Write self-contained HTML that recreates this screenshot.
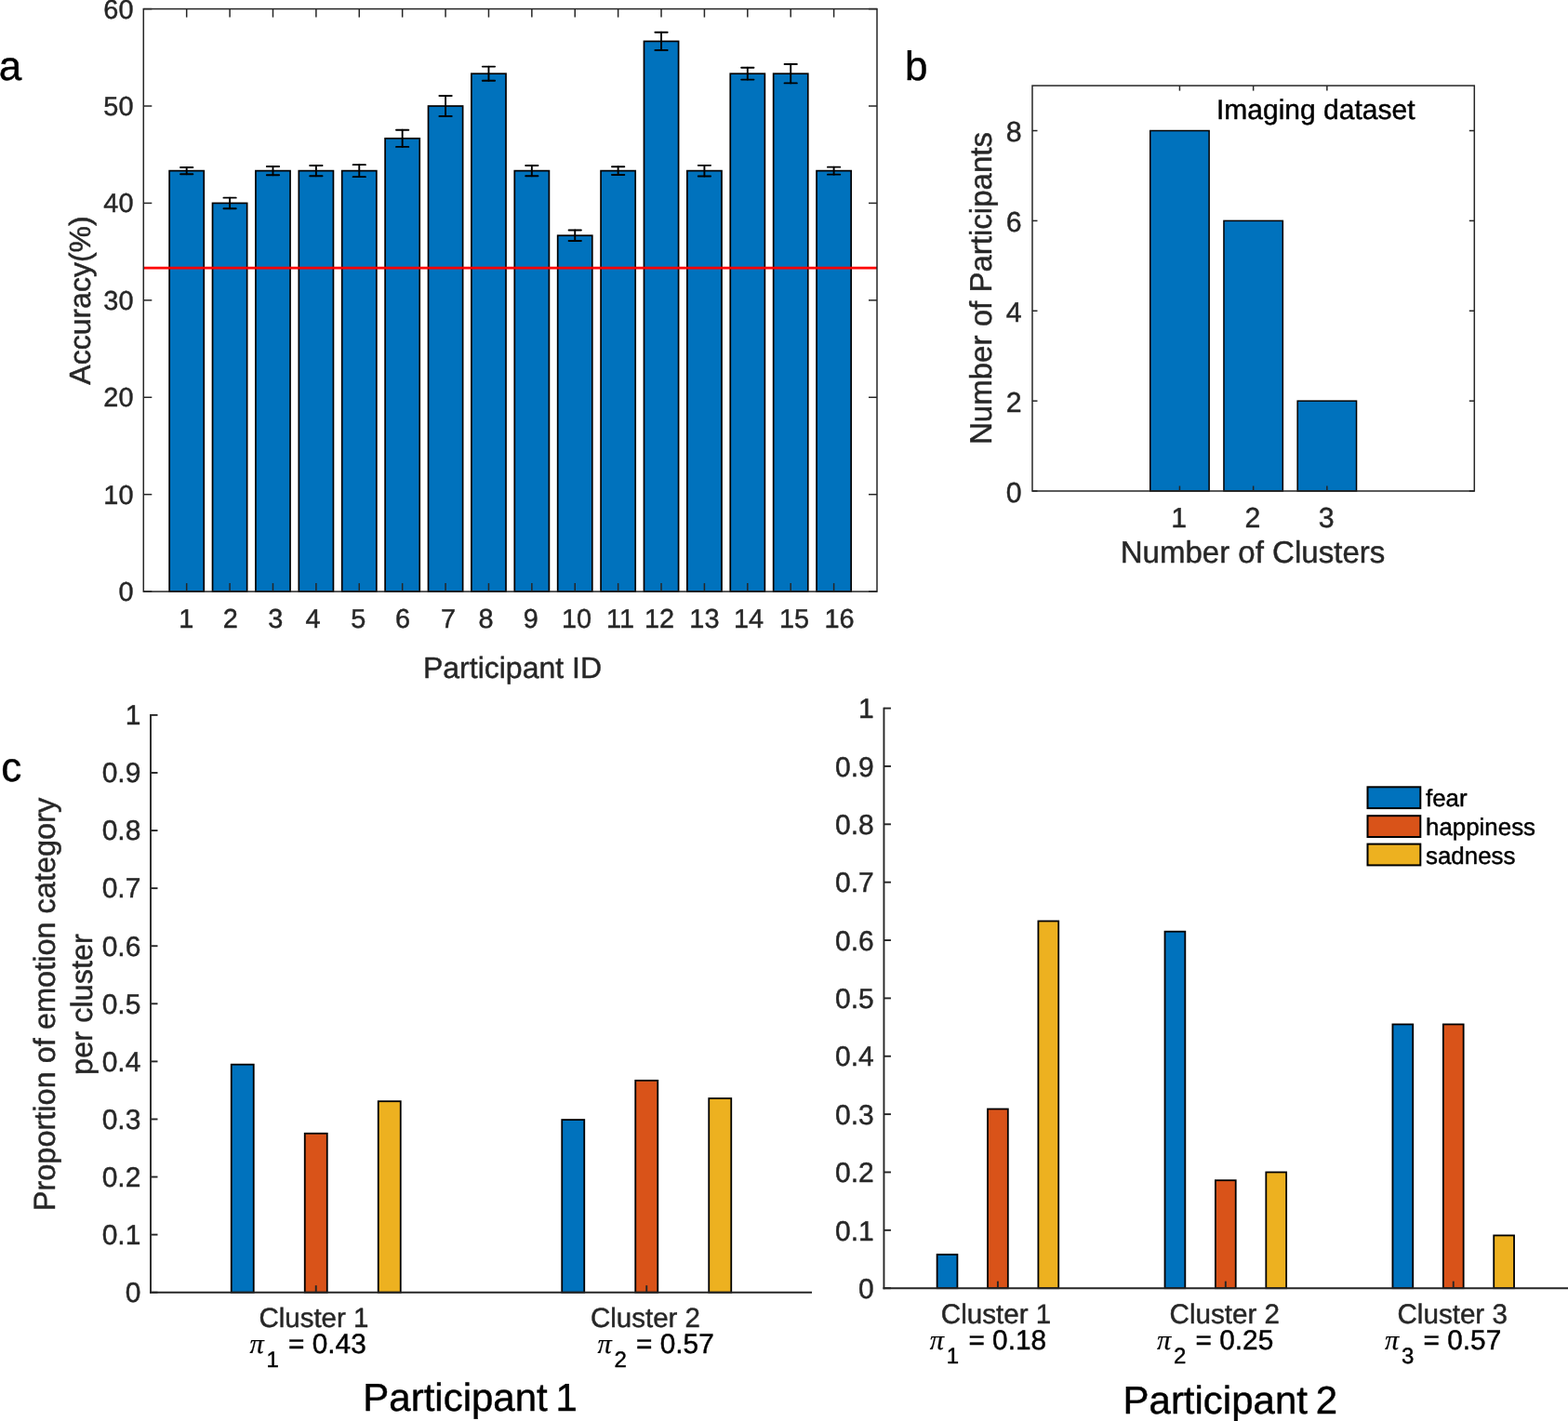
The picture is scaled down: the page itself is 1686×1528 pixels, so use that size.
<!DOCTYPE html>
<html lang="en"><head><meta charset="utf-8"><title>Figure</title>
<style>
html,body{margin:0;padding:0;background:#fff;}
body{width:1686px;height:1528px;overflow:hidden;}
svg{display:block;font-family:"Liberation Sans",sans-serif;text-rendering:geometricPrecision;}
text{stroke-width:0.45px;stroke-linejoin:round;paint-order:stroke;}
text.k{stroke-width:0.45px;}
tspan.pi{stroke-width:0.2px;}
</style></head><body>
<svg width="1686" height="1528" viewBox="0 0 1686 1528">
<rect x="0" y="0" width="1686" height="1528" fill="#ffffff"/>
<rect x="182.14" y="183.63" width="37.12" height="452.47" fill="#0072BD" stroke="#000" stroke-width="1.7"/>
<rect x="228.53" y="218.43" width="37.12" height="417.67" fill="#0072BD" stroke="#000" stroke-width="1.7"/>
<rect x="274.92" y="183.63" width="37.12" height="452.47" fill="#0072BD" stroke="#000" stroke-width="1.7"/>
<rect x="321.32" y="183.63" width="37.12" height="452.47" fill="#0072BD" stroke="#000" stroke-width="1.7"/>
<rect x="367.71" y="183.63" width="37.12" height="452.47" fill="#0072BD" stroke="#000" stroke-width="1.7"/>
<rect x="414.11" y="148.82" width="37.12" height="487.28" fill="#0072BD" stroke="#000" stroke-width="1.7"/>
<rect x="460.50" y="114.02" width="37.12" height="522.08" fill="#0072BD" stroke="#000" stroke-width="1.7"/>
<rect x="506.90" y="79.21" width="37.12" height="556.89" fill="#0072BD" stroke="#000" stroke-width="1.7"/>
<rect x="553.29" y="183.63" width="37.12" height="452.47" fill="#0072BD" stroke="#000" stroke-width="1.7"/>
<rect x="599.68" y="253.24" width="37.12" height="382.86" fill="#0072BD" stroke="#000" stroke-width="1.7"/>
<rect x="646.08" y="183.63" width="37.12" height="452.47" fill="#0072BD" stroke="#000" stroke-width="1.7"/>
<rect x="692.47" y="44.40" width="37.12" height="591.70" fill="#0072BD" stroke="#000" stroke-width="1.7"/>
<rect x="738.87" y="183.63" width="37.12" height="452.47" fill="#0072BD" stroke="#000" stroke-width="1.7"/>
<rect x="785.26" y="79.21" width="37.12" height="556.89" fill="#0072BD" stroke="#000" stroke-width="1.7"/>
<rect x="831.65" y="79.21" width="37.12" height="556.89" fill="#0072BD" stroke="#000" stroke-width="1.7"/>
<rect x="878.05" y="183.63" width="37.12" height="452.47" fill="#0072BD" stroke="#000" stroke-width="1.7"/>
<line x1="154.30" y1="288.04" x2="943.00" y2="288.04" stroke="#FF0000" stroke-width="2.7" />
<line x1="200.69" y1="180.03" x2="200.69" y2="187.23" stroke="#000" stroke-width="1.9" stroke-linecap="round"/>
<line x1="194.04" y1="180.03" x2="207.34" y2="180.03" stroke="#000" stroke-width="1.9" stroke-linecap="round"/>
<line x1="194.04" y1="187.23" x2="207.34" y2="187.23" stroke="#000" stroke-width="1.9" stroke-linecap="round"/>
<line x1="247.09" y1="212.63" x2="247.09" y2="224.23" stroke="#000" stroke-width="1.9" stroke-linecap="round"/>
<line x1="240.44" y1="212.63" x2="253.74" y2="212.63" stroke="#000" stroke-width="1.9" stroke-linecap="round"/>
<line x1="240.44" y1="224.23" x2="253.74" y2="224.23" stroke="#000" stroke-width="1.9" stroke-linecap="round"/>
<line x1="293.48" y1="179.03" x2="293.48" y2="188.23" stroke="#000" stroke-width="1.9" stroke-linecap="round"/>
<line x1="286.83" y1="179.03" x2="300.13" y2="179.03" stroke="#000" stroke-width="1.9" stroke-linecap="round"/>
<line x1="286.83" y1="188.23" x2="300.13" y2="188.23" stroke="#000" stroke-width="1.9" stroke-linecap="round"/>
<line x1="339.88" y1="178.03" x2="339.88" y2="189.23" stroke="#000" stroke-width="1.9" stroke-linecap="round"/>
<line x1="333.23" y1="178.03" x2="346.53" y2="178.03" stroke="#000" stroke-width="1.9" stroke-linecap="round"/>
<line x1="333.23" y1="189.23" x2="346.53" y2="189.23" stroke="#000" stroke-width="1.9" stroke-linecap="round"/>
<line x1="386.27" y1="177.13" x2="386.27" y2="190.13" stroke="#000" stroke-width="1.9" stroke-linecap="round"/>
<line x1="379.62" y1="177.13" x2="392.92" y2="177.13" stroke="#000" stroke-width="1.9" stroke-linecap="round"/>
<line x1="379.62" y1="190.13" x2="392.92" y2="190.13" stroke="#000" stroke-width="1.9" stroke-linecap="round"/>
<line x1="432.66" y1="139.72" x2="432.66" y2="157.92" stroke="#000" stroke-width="1.9" stroke-linecap="round"/>
<line x1="426.01" y1="139.72" x2="439.31" y2="139.72" stroke="#000" stroke-width="1.9" stroke-linecap="round"/>
<line x1="426.01" y1="157.92" x2="439.31" y2="157.92" stroke="#000" stroke-width="1.9" stroke-linecap="round"/>
<line x1="479.06" y1="103.02" x2="479.06" y2="125.02" stroke="#000" stroke-width="1.9" stroke-linecap="round"/>
<line x1="472.41" y1="103.02" x2="485.71" y2="103.02" stroke="#000" stroke-width="1.9" stroke-linecap="round"/>
<line x1="472.41" y1="125.02" x2="485.71" y2="125.02" stroke="#000" stroke-width="1.9" stroke-linecap="round"/>
<line x1="525.45" y1="71.61" x2="525.45" y2="86.81" stroke="#000" stroke-width="1.9" stroke-linecap="round"/>
<line x1="518.80" y1="71.61" x2="532.10" y2="71.61" stroke="#000" stroke-width="1.9" stroke-linecap="round"/>
<line x1="518.80" y1="86.81" x2="532.10" y2="86.81" stroke="#000" stroke-width="1.9" stroke-linecap="round"/>
<line x1="571.85" y1="178.03" x2="571.85" y2="189.23" stroke="#000" stroke-width="1.9" stroke-linecap="round"/>
<line x1="565.20" y1="178.03" x2="578.50" y2="178.03" stroke="#000" stroke-width="1.9" stroke-linecap="round"/>
<line x1="565.20" y1="189.23" x2="578.50" y2="189.23" stroke="#000" stroke-width="1.9" stroke-linecap="round"/>
<line x1="618.24" y1="247.44" x2="618.24" y2="259.04" stroke="#000" stroke-width="1.9" stroke-linecap="round"/>
<line x1="611.59" y1="247.44" x2="624.89" y2="247.44" stroke="#000" stroke-width="1.9" stroke-linecap="round"/>
<line x1="611.59" y1="259.04" x2="624.89" y2="259.04" stroke="#000" stroke-width="1.9" stroke-linecap="round"/>
<line x1="664.64" y1="179.23" x2="664.64" y2="188.03" stroke="#000" stroke-width="1.9" stroke-linecap="round"/>
<line x1="657.99" y1="179.23" x2="671.29" y2="179.23" stroke="#000" stroke-width="1.9" stroke-linecap="round"/>
<line x1="657.99" y1="188.03" x2="671.29" y2="188.03" stroke="#000" stroke-width="1.9" stroke-linecap="round"/>
<line x1="711.03" y1="34.80" x2="711.03" y2="54.00" stroke="#000" stroke-width="1.9" stroke-linecap="round"/>
<line x1="704.38" y1="34.80" x2="717.68" y2="34.80" stroke="#000" stroke-width="1.9" stroke-linecap="round"/>
<line x1="704.38" y1="54.00" x2="717.68" y2="54.00" stroke="#000" stroke-width="1.9" stroke-linecap="round"/>
<line x1="757.42" y1="177.83" x2="757.42" y2="189.43" stroke="#000" stroke-width="1.9" stroke-linecap="round"/>
<line x1="750.77" y1="177.83" x2="764.07" y2="177.83" stroke="#000" stroke-width="1.9" stroke-linecap="round"/>
<line x1="750.77" y1="189.43" x2="764.07" y2="189.43" stroke="#000" stroke-width="1.9" stroke-linecap="round"/>
<line x1="803.82" y1="72.81" x2="803.82" y2="85.61" stroke="#000" stroke-width="1.9" stroke-linecap="round"/>
<line x1="797.17" y1="72.81" x2="810.47" y2="72.81" stroke="#000" stroke-width="1.9" stroke-linecap="round"/>
<line x1="797.17" y1="85.61" x2="810.47" y2="85.61" stroke="#000" stroke-width="1.9" stroke-linecap="round"/>
<line x1="850.21" y1="69.01" x2="850.21" y2="89.41" stroke="#000" stroke-width="1.9" stroke-linecap="round"/>
<line x1="843.56" y1="69.01" x2="856.86" y2="69.01" stroke="#000" stroke-width="1.9" stroke-linecap="round"/>
<line x1="843.56" y1="89.41" x2="856.86" y2="89.41" stroke="#000" stroke-width="1.9" stroke-linecap="round"/>
<line x1="896.61" y1="179.63" x2="896.61" y2="187.63" stroke="#000" stroke-width="1.9" stroke-linecap="round"/>
<line x1="889.96" y1="179.63" x2="903.26" y2="179.63" stroke="#000" stroke-width="1.9" stroke-linecap="round"/>
<line x1="889.96" y1="187.63" x2="903.26" y2="187.63" stroke="#000" stroke-width="1.9" stroke-linecap="round"/>
<rect x="154.30" y="9.60" width="788.70" height="626.50" fill="none" stroke="#262626" stroke-width="1.5"/>
<line x1="200.69" y1="636.10" x2="200.69" y2="627.10" stroke="#262626" stroke-width="1.5" />
<line x1="200.69" y1="9.60" x2="200.69" y2="18.60" stroke="#262626" stroke-width="1.5" />
<line x1="247.09" y1="636.10" x2="247.09" y2="627.10" stroke="#262626" stroke-width="1.5" />
<line x1="247.09" y1="9.60" x2="247.09" y2="18.60" stroke="#262626" stroke-width="1.5" />
<line x1="293.48" y1="636.10" x2="293.48" y2="627.10" stroke="#262626" stroke-width="1.5" />
<line x1="293.48" y1="9.60" x2="293.48" y2="18.60" stroke="#262626" stroke-width="1.5" />
<line x1="339.88" y1="636.10" x2="339.88" y2="627.10" stroke="#262626" stroke-width="1.5" />
<line x1="339.88" y1="9.60" x2="339.88" y2="18.60" stroke="#262626" stroke-width="1.5" />
<line x1="386.27" y1="636.10" x2="386.27" y2="627.10" stroke="#262626" stroke-width="1.5" />
<line x1="386.27" y1="9.60" x2="386.27" y2="18.60" stroke="#262626" stroke-width="1.5" />
<line x1="432.66" y1="636.10" x2="432.66" y2="627.10" stroke="#262626" stroke-width="1.5" />
<line x1="432.66" y1="9.60" x2="432.66" y2="18.60" stroke="#262626" stroke-width="1.5" />
<line x1="479.06" y1="636.10" x2="479.06" y2="627.10" stroke="#262626" stroke-width="1.5" />
<line x1="479.06" y1="9.60" x2="479.06" y2="18.60" stroke="#262626" stroke-width="1.5" />
<line x1="525.45" y1="636.10" x2="525.45" y2="627.10" stroke="#262626" stroke-width="1.5" />
<line x1="525.45" y1="9.60" x2="525.45" y2="18.60" stroke="#262626" stroke-width="1.5" />
<line x1="571.85" y1="636.10" x2="571.85" y2="627.10" stroke="#262626" stroke-width="1.5" />
<line x1="571.85" y1="9.60" x2="571.85" y2="18.60" stroke="#262626" stroke-width="1.5" />
<line x1="618.24" y1="636.10" x2="618.24" y2="627.10" stroke="#262626" stroke-width="1.5" />
<line x1="618.24" y1="9.60" x2="618.24" y2="18.60" stroke="#262626" stroke-width="1.5" />
<line x1="664.64" y1="636.10" x2="664.64" y2="627.10" stroke="#262626" stroke-width="1.5" />
<line x1="664.64" y1="9.60" x2="664.64" y2="18.60" stroke="#262626" stroke-width="1.5" />
<line x1="711.03" y1="636.10" x2="711.03" y2="627.10" stroke="#262626" stroke-width="1.5" />
<line x1="711.03" y1="9.60" x2="711.03" y2="18.60" stroke="#262626" stroke-width="1.5" />
<line x1="757.42" y1="636.10" x2="757.42" y2="627.10" stroke="#262626" stroke-width="1.5" />
<line x1="757.42" y1="9.60" x2="757.42" y2="18.60" stroke="#262626" stroke-width="1.5" />
<line x1="803.82" y1="636.10" x2="803.82" y2="627.10" stroke="#262626" stroke-width="1.5" />
<line x1="803.82" y1="9.60" x2="803.82" y2="18.60" stroke="#262626" stroke-width="1.5" />
<line x1="850.21" y1="636.10" x2="850.21" y2="627.10" stroke="#262626" stroke-width="1.5" />
<line x1="850.21" y1="9.60" x2="850.21" y2="18.60" stroke="#262626" stroke-width="1.5" />
<line x1="896.61" y1="636.10" x2="896.61" y2="627.10" stroke="#262626" stroke-width="1.5" />
<line x1="896.61" y1="9.60" x2="896.61" y2="18.60" stroke="#262626" stroke-width="1.5" />
<line x1="154.30" y1="636.10" x2="163.30" y2="636.10" stroke="#262626" stroke-width="1.5" />
<line x1="943.00" y1="636.10" x2="934.00" y2="636.10" stroke="#262626" stroke-width="1.5" />
<text x="143.50" y="646.00" font-size="28.9" text-anchor="end" fill="#262626" stroke="#262626" >0</text>
<line x1="154.30" y1="531.68" x2="163.30" y2="531.68" stroke="#262626" stroke-width="1.5" />
<line x1="943.00" y1="531.68" x2="934.00" y2="531.68" stroke="#262626" stroke-width="1.5" />
<text x="143.50" y="541.58" font-size="28.9" text-anchor="end" fill="#262626" stroke="#262626" >10</text>
<line x1="154.30" y1="427.27" x2="163.30" y2="427.27" stroke="#262626" stroke-width="1.5" />
<line x1="943.00" y1="427.27" x2="934.00" y2="427.27" stroke="#262626" stroke-width="1.5" />
<text x="143.50" y="437.17" font-size="28.9" text-anchor="end" fill="#262626" stroke="#262626" >20</text>
<line x1="154.30" y1="322.85" x2="163.30" y2="322.85" stroke="#262626" stroke-width="1.5" />
<line x1="943.00" y1="322.85" x2="934.00" y2="322.85" stroke="#262626" stroke-width="1.5" />
<text x="143.50" y="332.75" font-size="28.9" text-anchor="end" fill="#262626" stroke="#262626" >30</text>
<line x1="154.30" y1="218.43" x2="163.30" y2="218.43" stroke="#262626" stroke-width="1.5" />
<line x1="943.00" y1="218.43" x2="934.00" y2="218.43" stroke="#262626" stroke-width="1.5" />
<text x="143.50" y="228.33" font-size="28.9" text-anchor="end" fill="#262626" stroke="#262626" >40</text>
<line x1="154.30" y1="114.02" x2="163.30" y2="114.02" stroke="#262626" stroke-width="1.5" />
<line x1="943.00" y1="114.02" x2="934.00" y2="114.02" stroke="#262626" stroke-width="1.5" />
<text x="143.50" y="123.92" font-size="28.9" text-anchor="end" fill="#262626" stroke="#262626" >50</text>
<line x1="154.30" y1="9.60" x2="163.30" y2="9.60" stroke="#262626" stroke-width="1.5" />
<line x1="943.00" y1="9.60" x2="934.00" y2="9.60" stroke="#262626" stroke-width="1.5" />
<text x="143.50" y="19.50" font-size="28.9" text-anchor="end" fill="#262626" stroke="#262626" >60</text>
<text x="200.20" y="674.50" font-size="28.9" text-anchor="middle" fill="#262626" stroke="#262626" >1</text>
<text x="247.90" y="674.50" font-size="28.9" text-anchor="middle" fill="#262626" stroke="#262626" >2</text>
<text x="296.20" y="674.50" font-size="28.9" text-anchor="middle" fill="#262626" stroke="#262626" >3</text>
<text x="336.60" y="674.50" font-size="28.9" text-anchor="middle" fill="#262626" stroke="#262626" >4</text>
<text x="385.20" y="674.50" font-size="28.9" text-anchor="middle" fill="#262626" stroke="#262626" >5</text>
<text x="433.10" y="674.50" font-size="28.9" text-anchor="middle" fill="#262626" stroke="#262626" >6</text>
<text x="482.00" y="674.50" font-size="28.9" text-anchor="middle" fill="#262626" stroke="#262626" >7</text>
<text x="522.50" y="674.50" font-size="28.9" text-anchor="middle" fill="#262626" stroke="#262626" >8</text>
<text x="570.90" y="674.50" font-size="28.9" text-anchor="middle" fill="#262626" stroke="#262626" >9</text>
<text x="620.10" y="674.50" font-size="28.9" text-anchor="middle" fill="#262626" stroke="#262626" >10</text>
<text x="667.00" y="674.50" font-size="28.9" text-anchor="middle" fill="#262626" stroke="#262626" >11</text>
<text x="709.00" y="674.50" font-size="28.9" text-anchor="middle" fill="#262626" stroke="#262626" >12</text>
<text x="757.40" y="674.50" font-size="28.9" text-anchor="middle" fill="#262626" stroke="#262626" >13</text>
<text x="805.00" y="674.50" font-size="28.9" text-anchor="middle" fill="#262626" stroke="#262626" >14</text>
<text x="854.00" y="674.50" font-size="28.9" text-anchor="middle" fill="#262626" stroke="#262626" >15</text>
<text x="902.60" y="674.50" font-size="28.9" text-anchor="middle" fill="#262626" stroke="#262626" >16</text>
<text x="551.00" y="728.90" font-size="32" text-anchor="middle" fill="#262626" stroke="#262626" >Participant ID</text>
<text x="96.90" y="323.00" font-size="32" text-anchor="middle" fill="#262626" stroke="#262626" transform="rotate(-90 96.90 323.00)" >Accuracy(%)</text>
<text class="k" x="-1.20" y="86.00" font-size="44" text-anchor="start" fill="#000" stroke="#000" >a</text>
<rect x="1236.75" y="140.53" width="63.37" height="387.47" fill="#0072BD" stroke="#000" stroke-width="1.5"/>
<rect x="1315.96" y="237.40" width="63.37" height="290.60" fill="#0072BD" stroke="#000" stroke-width="1.5"/>
<rect x="1395.18" y="431.13" width="63.37" height="96.87" fill="#0072BD" stroke="#000" stroke-width="1.5"/>
<rect x="1110.00" y="92.10" width="475.30" height="435.90" fill="none" stroke="#262626" stroke-width="1.5"/>
<line x1="1268.43" y1="528.00" x2="1268.43" y2="522.50" stroke="#262626" stroke-width="1.5" />
<line x1="1268.43" y1="92.10" x2="1268.43" y2="97.60" stroke="#262626" stroke-width="1.5" />
<text x="1267.80" y="567.40" font-size="30.3" text-anchor="middle" fill="#262626" stroke="#262626" >1</text>
<line x1="1347.65" y1="528.00" x2="1347.65" y2="522.50" stroke="#262626" stroke-width="1.5" />
<line x1="1347.65" y1="92.10" x2="1347.65" y2="97.60" stroke="#262626" stroke-width="1.5" />
<text x="1347.00" y="567.40" font-size="30.3" text-anchor="middle" fill="#262626" stroke="#262626" >2</text>
<line x1="1426.87" y1="528.00" x2="1426.87" y2="522.50" stroke="#262626" stroke-width="1.5" />
<line x1="1426.87" y1="92.10" x2="1426.87" y2="97.60" stroke="#262626" stroke-width="1.5" />
<text x="1426.30" y="567.40" font-size="30.3" text-anchor="middle" fill="#262626" stroke="#262626" >3</text>
<line x1="1110.00" y1="528.00" x2="1115.50" y2="528.00" stroke="#262626" stroke-width="1.5" />
<line x1="1585.30" y1="528.00" x2="1579.80" y2="528.00" stroke="#262626" stroke-width="1.5" />
<text x="1098.60" y="539.50" font-size="30.3" text-anchor="end" fill="#262626" stroke="#262626" >0</text>
<line x1="1110.00" y1="431.13" x2="1115.50" y2="431.13" stroke="#262626" stroke-width="1.5" />
<line x1="1585.30" y1="431.13" x2="1579.80" y2="431.13" stroke="#262626" stroke-width="1.5" />
<text x="1098.60" y="442.63" font-size="30.3" text-anchor="end" fill="#262626" stroke="#262626" >2</text>
<line x1="1110.00" y1="334.27" x2="1115.50" y2="334.27" stroke="#262626" stroke-width="1.5" />
<line x1="1585.30" y1="334.27" x2="1579.80" y2="334.27" stroke="#262626" stroke-width="1.5" />
<text x="1098.60" y="345.77" font-size="30.3" text-anchor="end" fill="#262626" stroke="#262626" >4</text>
<line x1="1110.00" y1="237.40" x2="1115.50" y2="237.40" stroke="#262626" stroke-width="1.5" />
<line x1="1585.30" y1="237.40" x2="1579.80" y2="237.40" stroke="#262626" stroke-width="1.5" />
<text x="1098.60" y="248.90" font-size="30.3" text-anchor="end" fill="#262626" stroke="#262626" >6</text>
<line x1="1110.00" y1="140.53" x2="1115.50" y2="140.53" stroke="#262626" stroke-width="1.5" />
<line x1="1585.30" y1="140.53" x2="1579.80" y2="140.53" stroke="#262626" stroke-width="1.5" />
<text x="1098.60" y="152.03" font-size="30.3" text-anchor="end" fill="#262626" stroke="#262626" >8</text>
<text x="1347.00" y="604.60" font-size="33.05" text-anchor="middle" fill="#262626" stroke="#262626" >Number of Clusters</text>
<text x="1066.00" y="310.00" font-size="33.05" text-anchor="middle" fill="#262626" stroke="#262626" transform="rotate(-90 1066.00 310.00)" >Number of Participants</text>
<text class="k" x="1308.00" y="128.00" font-size="30.0" text-anchor="start" fill="#000" stroke="#000" >Imaging dataset</text>
<text class="k" x="973.00" y="86.00" font-size="44" text-anchor="start" fill="#000" stroke="#000" >b</text>
<rect x="248.75" y="1144.67" width="24.00" height="245.03" fill="#0072BD" stroke="#000" stroke-width="1.8"/>
<rect x="327.75" y="1218.79" width="24.00" height="170.91" fill="#D95319" stroke="#000" stroke-width="1.8"/>
<rect x="406.75" y="1184.22" width="24.00" height="205.48" fill="#EDB120" stroke="#000" stroke-width="1.8"/>
<rect x="604.25" y="1204.08" width="24.00" height="185.62" fill="#0072BD" stroke="#000" stroke-width="1.8"/>
<rect x="683.25" y="1161.87" width="24.00" height="227.83" fill="#D95319" stroke="#000" stroke-width="1.8"/>
<rect x="762.25" y="1181.11" width="24.00" height="208.59" fill="#EDB120" stroke="#000" stroke-width="1.8"/>
<line x1="161.05" y1="1389.70" x2="873.00" y2="1389.70" stroke="#262626" stroke-width="1.9" />
<line x1="162.00" y1="767.95" x2="162.00" y2="1390.65" stroke="#262626" stroke-width="1.9" />
<line x1="339.75" y1="1389.70" x2="339.75" y2="1382.20" stroke="#262626" stroke-width="1.9" />
<text x="337.40" y="1426.70" font-size="29.5" text-anchor="middle" fill="#262626" stroke="#262626" >Cluster 1</text>
<text class="k" x="268.50" y="1454.80" font-size="29.8" fill="#000" stroke="#000" text-anchor="start"><tspan class="pi" font-family="'Liberation Serif', 'DejaVu Serif', serif" font-style="italic" font-size="30.5">π</tspan><tspan x="286.50" y="1469.80" font-size="24">1</tspan><tspan x="310.10" y="1454.80">= 0.43</tspan></text>
<line x1="695.25" y1="1389.70" x2="695.25" y2="1382.20" stroke="#262626" stroke-width="1.9" />
<text x="694.00" y="1426.70" font-size="29.5" text-anchor="middle" fill="#262626" stroke="#262626" >Cluster 2</text>
<text class="k" x="642.50" y="1454.80" font-size="29.8" fill="#000" stroke="#000" text-anchor="start"><tspan class="pi" font-family="'Liberation Serif', 'DejaVu Serif', serif" font-style="italic" font-size="30.5">π</tspan><tspan x="660.50" y="1469.80" font-size="24">2</tspan><tspan x="684.10" y="1454.80">= 0.57</tspan></text>
<line x1="162.00" y1="1389.70" x2="169.50" y2="1389.70" stroke="#262626" stroke-width="1.9" />
<text x="151.40" y="1400.00" font-size="30.0" text-anchor="end" fill="#262626" stroke="#262626" >0</text>
<line x1="162.00" y1="1327.62" x2="169.50" y2="1327.62" stroke="#262626" stroke-width="1.9" />
<text x="151.40" y="1337.92" font-size="30.0" text-anchor="end" fill="#262626" stroke="#262626" >0.1</text>
<line x1="162.00" y1="1265.54" x2="169.50" y2="1265.54" stroke="#262626" stroke-width="1.9" />
<text x="151.40" y="1275.84" font-size="30.0" text-anchor="end" fill="#262626" stroke="#262626" >0.2</text>
<line x1="162.00" y1="1203.46" x2="169.50" y2="1203.46" stroke="#262626" stroke-width="1.9" />
<text x="151.40" y="1213.76" font-size="30.0" text-anchor="end" fill="#262626" stroke="#262626" >0.3</text>
<line x1="162.00" y1="1141.38" x2="169.50" y2="1141.38" stroke="#262626" stroke-width="1.9" />
<text x="151.40" y="1151.68" font-size="30.0" text-anchor="end" fill="#262626" stroke="#262626" >0.4</text>
<line x1="162.00" y1="1079.30" x2="169.50" y2="1079.30" stroke="#262626" stroke-width="1.9" />
<text x="151.40" y="1089.60" font-size="30.0" text-anchor="end" fill="#262626" stroke="#262626" >0.5</text>
<line x1="162.00" y1="1017.22" x2="169.50" y2="1017.22" stroke="#262626" stroke-width="1.9" />
<text x="151.40" y="1027.52" font-size="30.0" text-anchor="end" fill="#262626" stroke="#262626" >0.6</text>
<line x1="162.00" y1="955.14" x2="169.50" y2="955.14" stroke="#262626" stroke-width="1.9" />
<text x="151.40" y="965.44" font-size="30.0" text-anchor="end" fill="#262626" stroke="#262626" >0.7</text>
<line x1="162.00" y1="893.06" x2="169.50" y2="893.06" stroke="#262626" stroke-width="1.9" />
<text x="151.40" y="903.36" font-size="30.0" text-anchor="end" fill="#262626" stroke="#262626" >0.8</text>
<line x1="162.00" y1="830.98" x2="169.50" y2="830.98" stroke="#262626" stroke-width="1.9" />
<text x="151.40" y="841.28" font-size="30.0" text-anchor="end" fill="#262626" stroke="#262626" >0.9</text>
<line x1="162.00" y1="768.90" x2="169.50" y2="768.90" stroke="#262626" stroke-width="1.9" />
<text x="151.40" y="779.20" font-size="30.0" text-anchor="end" fill="#262626" stroke="#262626" >1</text>
<text class="k" x="505.60" y="1517.40" font-size="42" text-anchor="middle" fill="#000" stroke="#000" word-spacing="-2.9">Participant 1</text>
<text x="59.00" y="1080.00" font-size="32.5" text-anchor="middle" fill="#262626" stroke="#262626" transform="rotate(-90 59.00 1080.00)" >Proportion of emotion category</text>
<text x="99.00" y="1080.00" font-size="32.5" text-anchor="middle" fill="#262626" stroke="#262626" transform="rotate(-90 99.00 1080.00)" >per cluster</text>
<rect x="1007.61" y="1349.03" width="21.80" height="36.17" fill="#0072BD" stroke="#000" stroke-width="1.8"/>
<rect x="1062.01" y="1192.51" width="21.80" height="192.69" fill="#D95319" stroke="#000" stroke-width="1.8"/>
<rect x="1116.41" y="990.46" width="21.80" height="394.74" fill="#EDB120" stroke="#000" stroke-width="1.8"/>
<rect x="1252.52" y="1001.69" width="21.80" height="383.51" fill="#0072BD" stroke="#000" stroke-width="1.8"/>
<rect x="1306.92" y="1269.21" width="21.80" height="115.99" fill="#D95319" stroke="#000" stroke-width="1.8"/>
<rect x="1361.33" y="1260.48" width="21.80" height="124.72" fill="#EDB120" stroke="#000" stroke-width="1.8"/>
<rect x="1497.44" y="1101.46" width="21.80" height="283.74" fill="#0072BD" stroke="#000" stroke-width="1.8"/>
<rect x="1551.84" y="1101.46" width="21.80" height="283.74" fill="#D95319" stroke="#000" stroke-width="1.8"/>
<rect x="1606.24" y="1328.45" width="21.80" height="56.75" fill="#EDB120" stroke="#000" stroke-width="1.8"/>
<line x1="949.50" y1="1385.20" x2="1686.00" y2="1385.20" stroke="#262626" stroke-width="1.9" />
<line x1="950.45" y1="760.65" x2="950.45" y2="1386.15" stroke="#262626" stroke-width="1.9" />
<line x1="1072.91" y1="1385.20" x2="1072.91" y2="1377.70" stroke="#262626" stroke-width="1.9" />
<text x="1071.00" y="1423.00" font-size="29.6" text-anchor="middle" fill="#262626" stroke="#262626" >Cluster 1</text>
<text class="k" x="999.80" y="1451.00" font-size="29.8" fill="#000" stroke="#000" text-anchor="start"><tspan class="pi" font-family="'Liberation Serif', 'DejaVu Serif', serif" font-style="italic" font-size="30.5">π</tspan><tspan x="1017.80" y="1466.00" font-size="24">1</tspan><tspan x="1041.40" y="1451.00">= 0.18</tspan></text>
<line x1="1317.83" y1="1385.20" x2="1317.83" y2="1377.70" stroke="#262626" stroke-width="1.9" />
<text x="1316.80" y="1423.00" font-size="29.6" text-anchor="middle" fill="#262626" stroke="#262626" >Cluster 2</text>
<text class="k" x="1244.00" y="1451.00" font-size="29.8" fill="#000" stroke="#000" text-anchor="start"><tspan class="pi" font-family="'Liberation Serif', 'DejaVu Serif', serif" font-style="italic" font-size="30.5">π</tspan><tspan x="1262.00" y="1466.00" font-size="24">2</tspan><tspan x="1285.60" y="1451.00">= 0.25</tspan></text>
<line x1="1562.74" y1="1385.20" x2="1562.74" y2="1377.70" stroke="#262626" stroke-width="1.9" />
<text x="1561.70" y="1423.00" font-size="29.6" text-anchor="middle" fill="#262626" stroke="#262626" >Cluster 3</text>
<text class="k" x="1489.00" y="1451.00" font-size="29.8" fill="#000" stroke="#000" text-anchor="start"><tspan class="pi" font-family="'Liberation Serif', 'DejaVu Serif', serif" font-style="italic" font-size="30.5">π</tspan><tspan x="1507.00" y="1466.00" font-size="24">3</tspan><tspan x="1530.60" y="1451.00">= 0.57</tspan></text>
<line x1="950.45" y1="1385.20" x2="957.95" y2="1385.20" stroke="#262626" stroke-width="1.9" />
<text x="939.70" y="1395.90" font-size="30.0" text-anchor="end" fill="#262626" stroke="#262626" >0</text>
<line x1="950.45" y1="1322.84" x2="957.95" y2="1322.84" stroke="#262626" stroke-width="1.9" />
<text x="939.70" y="1333.54" font-size="30.0" text-anchor="end" fill="#262626" stroke="#262626" >0.1</text>
<line x1="950.45" y1="1260.48" x2="957.95" y2="1260.48" stroke="#262626" stroke-width="1.9" />
<text x="939.70" y="1271.18" font-size="30.0" text-anchor="end" fill="#262626" stroke="#262626" >0.2</text>
<line x1="950.45" y1="1198.12" x2="957.95" y2="1198.12" stroke="#262626" stroke-width="1.9" />
<text x="939.70" y="1208.82" font-size="30.0" text-anchor="end" fill="#262626" stroke="#262626" >0.3</text>
<line x1="950.45" y1="1135.76" x2="957.95" y2="1135.76" stroke="#262626" stroke-width="1.9" />
<text x="939.70" y="1146.46" font-size="30.0" text-anchor="end" fill="#262626" stroke="#262626" >0.4</text>
<line x1="950.45" y1="1073.40" x2="957.95" y2="1073.40" stroke="#262626" stroke-width="1.9" />
<text x="939.70" y="1084.10" font-size="30.0" text-anchor="end" fill="#262626" stroke="#262626" >0.5</text>
<line x1="950.45" y1="1011.04" x2="957.95" y2="1011.04" stroke="#262626" stroke-width="1.9" />
<text x="939.70" y="1021.74" font-size="30.0" text-anchor="end" fill="#262626" stroke="#262626" >0.6</text>
<line x1="950.45" y1="948.68" x2="957.95" y2="948.68" stroke="#262626" stroke-width="1.9" />
<text x="939.70" y="959.38" font-size="30.0" text-anchor="end" fill="#262626" stroke="#262626" >0.7</text>
<line x1="950.45" y1="886.32" x2="957.95" y2="886.32" stroke="#262626" stroke-width="1.9" />
<text x="939.70" y="897.02" font-size="30.0" text-anchor="end" fill="#262626" stroke="#262626" >0.8</text>
<line x1="950.45" y1="823.96" x2="957.95" y2="823.96" stroke="#262626" stroke-width="1.9" />
<text x="939.70" y="834.66" font-size="30.0" text-anchor="end" fill="#262626" stroke="#262626" >0.9</text>
<line x1="950.45" y1="761.60" x2="957.95" y2="761.60" stroke="#262626" stroke-width="1.9" />
<text x="939.70" y="772.30" font-size="30.0" text-anchor="end" fill="#262626" stroke="#262626" >1</text>
<text class="k" x="1322.80" y="1519.50" font-size="42" text-anchor="middle" fill="#000" stroke="#000" word-spacing="-2.9">Participant 2</text>
<rect x="1470.50" y="846.30" width="56.80" height="22.80" fill="#0072BD" stroke="#000" stroke-width="2.0"/>
<text class="k" x="1533.00" y="867.30" font-size="25.9" text-anchor="start" fill="#000" stroke="#000" >fear</text>
<rect x="1470.50" y="877.20" width="56.80" height="22.80" fill="#D95319" stroke="#000" stroke-width="2.0"/>
<text class="k" x="1533.00" y="898.20" font-size="25.9" text-anchor="start" fill="#000" stroke="#000" >happiness</text>
<rect x="1470.50" y="907.60" width="56.80" height="22.80" fill="#EDB120" stroke="#000" stroke-width="2.0"/>
<text class="k" x="1533.00" y="928.60" font-size="25.9" text-anchor="start" fill="#000" stroke="#000" >sadness</text>
<text class="k" x="1.20" y="840.00" font-size="44" text-anchor="start" fill="#000" stroke="#000" >c</text>
</svg>
</body></html>
